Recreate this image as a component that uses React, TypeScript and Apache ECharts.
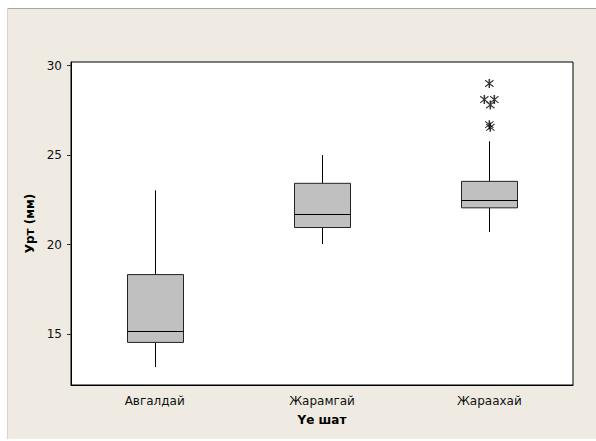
import React, { useEffect, useRef } from "react";
import * as echarts from "echarts";

const categories = ["Авгалдай", "Жарамгай", "Жараахай"];
const whiskerLow = [13.15, 20.03, 20.7];
const quartile1 = [14.53, 20.95, 22.05];
const medians = [15.17, 21.73, 22.49];
const quartile3 = [18.32, 23.42, 23.53];
const whiskerHigh = [23.03, 25.0, 25.77];
const outlierCategory = [2, 2, 2, 2, 2, 2];
const outlierValues = [29.0, 28.1, 28.1, 27.8, 26.7, 26.55];
const yTicks = [15, 20, 25, 30];

const ASTERISK =
  "path://M4.3 0 L5.7 0 L5.7 10 L4.3 10 Z M1.45 0.85 L9.15 8.15 L8.55 9.15 L0.85 1.85 Z M0.85 8.15 L8.55 0.85 L9.15 1.85 L1.45 9.15 Z";

export default function App() {
  const ref = useRef<HTMLDivElement>(null);
  useEffect(() => {
    if (!ref.current) return;
    const chart = echarts.init(ref.current, null, { renderer: "svg" });
    const jitter = [0, -5, 5, 1, 0, 1];
    const boxData = categories.map((_, i) => [
      i,
      whiskerLow[i],
      quartile1[i],
      medians[i],
      quartile3[i],
      whiskerHigh[i],
    ]);
    const font = "DejaVu Sans";
    chart.setOption({
      animation: false,
      backgroundColor: "#EFEBE2",
      textStyle: { fontFamily: font },
      graphic: [
        { type: "rect", shape: { x: 0, y: 0, width: 596, height: 8 }, style: { fill: "#fff" }, silent: true },
        { type: "rect", shape: { x: 0, y: 0, width: 7, height: 441 }, style: { fill: "#fff" }, silent: true },
        { type: "rect", shape: { x: 0, y: 439, width: 596, height: 2 }, style: { fill: "#fff" }, silent: true },
        { type: "line", shape: { x1: 7, y1: 8.5, x2: 596, y2: 8.5 }, style: { stroke: "#A9A7A1", lineWidth: 1 }, silent: true },
        { type: "line", shape: { x1: 7.5, y1: 8, x2: 7.5, y2: 439 }, style: { stroke: "#D9D5CC", lineWidth: 1 }, silent: true },
      ],
      grid: {
        left: 71,
        top: 62,
        width: 502,
        height: 323,
        show: true,
        backgroundColor: "#ffffff",
        borderColor: "#000",
        borderWidth: 1,
      },
      xAxis: {
        type: "category",
        data: categories,
        boundaryGap: true,
        name: "Үе шат",
        nameLocation: "middle",
        nameGap: 29,
        nameTextStyle: { fontWeight: "bold", fontSize: 12, color: "#000", fontFamily: font },
        axisLine: { lineStyle: { color: "#000" } },
        axisTick: { alignWithLabel: true, length: 4, lineStyle: { color: "#333" } },
        axisLabel: { margin: 10, fontSize: 12, color: "#111", fontFamily: font },
        splitLine: { show: false },
      },
      yAxis: {
        type: "value",
        min: 12.15,
        max: 30.2,
        name: "Урт (мм)",
        nameLocation: "middle",
        nameGap: 32,
        nameTextStyle: { fontWeight: "bold", fontSize: 12, color: "#000", fontFamily: font },
        axisLine: { show: true, lineStyle: { color: "#000" } },
        axisTick: { show: true, length: 4, customValues: yTicks, lineStyle: { color: "#333" } },
        axisLabel: { margin: 9, fontSize: 12, color: "#111", customValues: yTicks, fontFamily: font },
        splitLine: { show: false },
      },
      series: [
        {
          type: "custom",
          data: boxData,
          encode: { x: 0, y: [1, 2, 3, 4, 5] },
          renderItem: (params: any, api: any) => {
            const c = api.value(0);
            const pMin = api.coord([c, api.value(1)]);
            const pQ1 = api.coord([c, api.value(2)]);
            const pMed = api.coord([c, api.value(3)]);
            const pQ3 = api.coord([c, api.value(4)]);
            const pMax = api.coord([c, api.value(5)]);
            const cx = Math.round(pMin[0]) + 0.5;
            const half = 28;
            const lineStyle = { stroke: "#000", lineWidth: 1 };
            return {
              type: "group",
              children: [
                { type: "line", shape: { x1: cx, y1: pMax[1], x2: cx, y2: pQ3[1] }, style: lineStyle },
                { type: "line", shape: { x1: cx, y1: pQ1[1], x2: cx, y2: pMin[1] }, style: lineStyle },
                {
                  type: "rect",
                  shape: { x: cx - half, y: pQ3[1], width: half * 2, height: pQ1[1] - pQ3[1] },
                  style: { fill: "#C0C0C0", stroke: "#222", lineWidth: 1 },
                },
                {
                  type: "line",
                  shape: { x1: cx - half, y1: Math.round(pMed[1]) + 0.5, x2: cx + half, y2: Math.round(pMed[1]) + 0.5 },
                  style: lineStyle,
                },
              ],
            };
          },
          z: 2,
        },
        {
          type: "scatter",
          symbol: ASTERISK,
          symbolSize: 9,
          itemStyle: { color: "#000" },
          data: outlierValues.map((v, i) => ({
            value: [outlierCategory[i], v],
            symbolOffset: [jitter[i], 0],
          })),
          z: 3,
        },
      ],
    });
    return () => chart.dispose();
  }, []);
  return (
    <div
      ref={ref}
      style={{ position: "fixed", left: 0, top: 0, width: 596, height: 441 }}
    />
  );
}
